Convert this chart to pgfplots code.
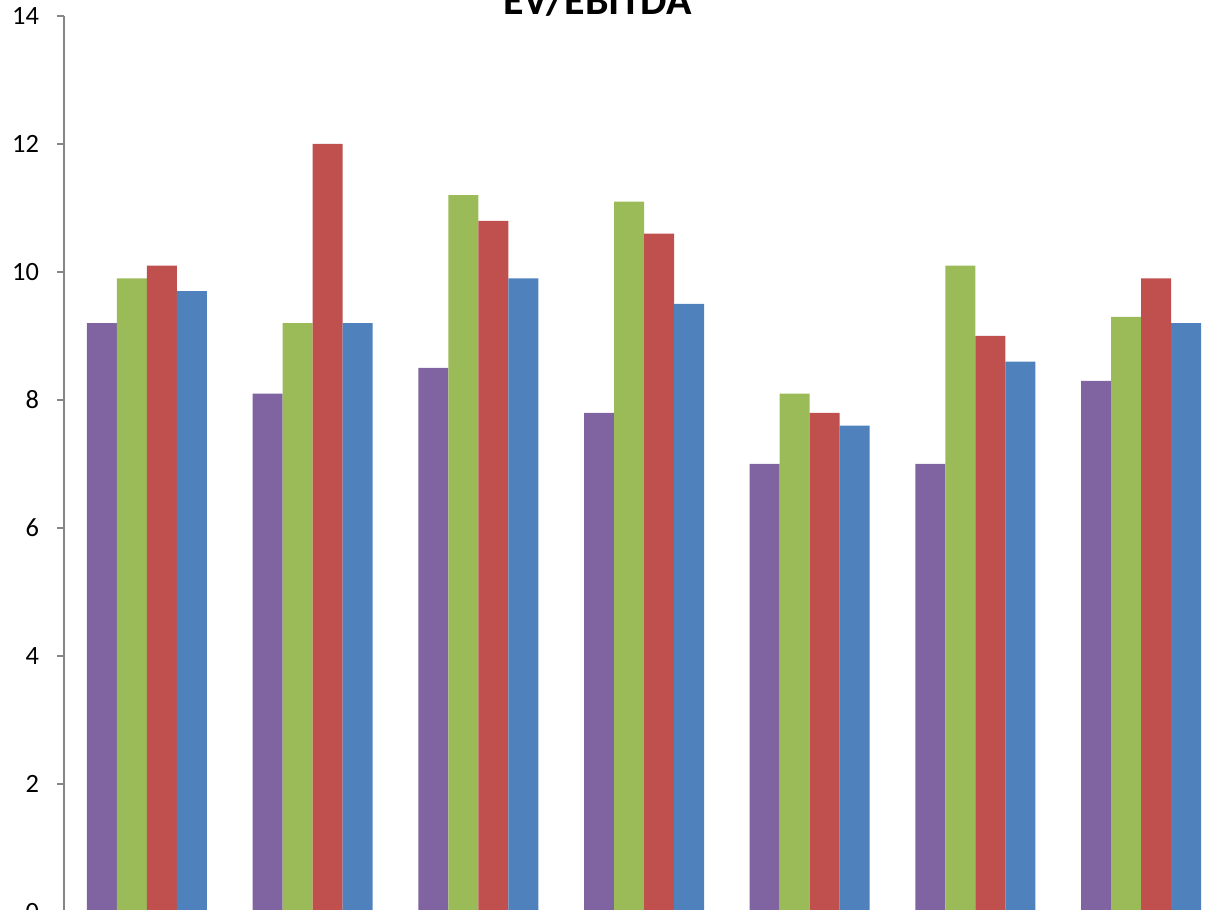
\documentclass[border=0pt]{standalone}
\usepackage{fontspec}
\setmainfont{Carlito}
\usepackage{pgfplots}
\pgfplotsset{compat=1.18}
\definecolor{cpurple}{HTML}{8064A2}
\definecolor{cgreen}{HTML}{9BBB59}
\definecolor{cred}{HTML}{C0504D}
\definecolor{cblue}{HTML}{4F81BD}
\definecolor{caxis}{HTML}{868686}
\begin{document}
\begin{tikzpicture}
\begin{axis}[
  scale only axis,
  width=580pt, height=448pt,
  xmin=-0.5, xmax=6.5, ymin=0, ymax=14,
  ybar=0pt, bar width=15pt,
  axis lines*=left,
  axis line style={draw=caxis, line width=0.8pt},
  xtick=\empty,
  ytick={0,2,...,14},
  tick align=outside,
  major tick length=3.5pt,
  tick style={draw=caxis, line width=0.8pt},
  /pgf/number format/assume math mode=true,
  yticklabel style={font=\fontsize{13.2}{15}\selectfont, anchor=east, xshift=-5.5pt},
  clip=false,
]
\addplot[fill=cpurple, draw=none] coordinates {(0,9.2) (1,8.1) (2,8.5) (3,7.8) (4,7.0) (5,7.0) (6,8.3)};
\addplot[fill=cgreen, draw=none] coordinates {(0,9.9) (1,9.2) (2,11.2) (3,11.1) (4,8.1) (5,10.1) (6,9.3)};
\addplot[fill=cred, draw=none] coordinates {(0,10.1) (1,12.0) (2,10.8) (3,10.6) (4,7.8) (5,9.0) (6,9.9)};
\addplot[fill=cblue, draw=none] coordinates {(0,9.7) (1,9.2) (2,9.9) (3,9.5) (4,7.6) (5,8.6) (6,9.2)};
\coordinate (o) at (rel axis cs:0,0);
\node[anchor=base, font=\bfseries\fontsize{21}{24}\selectfont, inner sep=0pt]
  at ([xshift=266.75pt, yshift=0.5pt]rel axis cs:0,1) {EV/EBITDA};
\end{axis}
\pgfresetboundingbox
\path[use as bounding box] ([shift={(-32pt,1pt)}]o) rectangle ([shift={(576pt,456pt)}]o);
\end{tikzpicture}
\end{document}
